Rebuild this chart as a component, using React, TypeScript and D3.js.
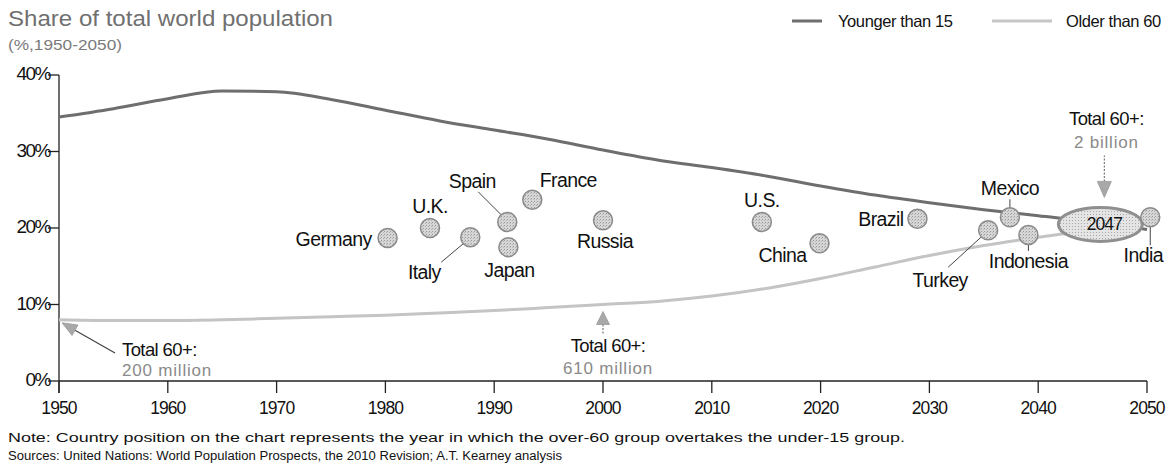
import React from "react";
import * as d3 from "d3";

// ---------- DATA ----------
const years = [1950, 1955, 1960, 1965, 1970, 1975, 1980, 1985, 1990, 1995, 2000, 2005, 2010, 2015, 2020, 2025, 2030, 2035, 2040, 2045, 2050];
const youngerShare = [34.5, 35.6, 36.9, 37.9, 37.8, 36.8, 35.4, 34.0, 32.8, 31.6, 30.2, 28.9, 27.9, 26.8, 25.5, 24.3, 23.3, 22.4, 21.6, 20.8, 19.8];
const olderShare = [8.0, 7.9, 7.9, 8.0, 8.2, 8.4, 8.6, 8.9, 9.2, 9.6, 10.0, 10.4, 11.1, 12.1, 13.4, 14.9, 16.4, 17.7, 18.8, 19.8, 21.2];

const yTicks = [0, 10, 20, 30, 40];
const xTicks = [1950, 1960, 1970, 1980, 1990, 2000, 2010, 2020, 2030, 2040, 2050];

const countryNames = ["Germany", "U.K.", "Italy", "Spain", "Japan", "France", "Russia", "U.S.", "China", "Brazil", "Turkey", "Mexico", "Indonesia", "India"];
const countryYears = [1980.2, 1984.1, 1987.8, 1991.2, 1991.3, 1993.5, 2000, 2014.6, 2019.9, 2028.9, 2035.4, 2037.4, 2039.1, 2050.3];
const countryValues = [18.7, 20.0, 18.8, 20.8, 17.5, 23.7, 21.0, 20.8, 18.0, 21.2, 19.7, 21.4, 19.1, 21.4];

const annotationYears = [1950, 2000, 2047];
const annotationTotals = ["200 million", "610 million", "2 billion"];
const crossoverYear = 2047;
const crossoverValue = 20.6;

const legendLabels = ["Younger than 15", "Older than 60"];
const titleText = "Share of total world population";
const subtitleText = "(%,1950-2050)";
const noteText = "Note: Country position on the chart represents the year in which the over-60 group overtakes the under-15 group.";
const sourceText = "Sources: United Nations: World Population Prospects, the 2010 Revision; A.T. Kearney analysis";

// ---------- LAYOUT ----------
type LabelPos = { dx: number; dy: number; anchor: "start" | "middle" | "end"; leader?: [number, number, number, number] };
const labelLayout: Record<string, LabelPos> = {
  "Germany": { dx: -16, dy: 1, anchor: "end" },
  "U.K.": { dx: 0, dy: -22, anchor: "middle" },
  "Italy": { dx: -46, dy: 35, anchor: "middle", leader: [-29, 25, -4, 4] },
  "Spain": { dx: -35, dy: -41, anchor: "middle", leader: [-29, -30, -4, -5] },
  "Japan": { dx: 1, dy: 23, anchor: "middle" },
  "France": { dx: 36, dy: -20, anchor: "middle" },
  "Russia": { dx: 2, dy: 21, anchor: "middle" },
  "U.S.": { dx: 0, dy: -22, anchor: "middle" },
  "China": { dx: -37, dy: 12, anchor: "middle" },
  "Brazil": { dx: -14, dy: 0, anchor: "end" },
  "Turkey": { dx: -48, dy: 50, anchor: "middle", leader: [-40, 37, -4, 4] },
  "Mexico": { dx: 0, dy: -29, anchor: "middle", leader: [0, -18, 0, -9] },
  "Indonesia": { dx: 0, dy: 26, anchor: "middle", leader: [0, 9, 0, 16] },
  "India": { dx: -7, dy: 38, anchor: "middle", leader: [0, 9, 0, 28] },
};

const W = 1170;
const H = 470;
const FONT = "'Liberation Sans', Arial, sans-serif";

function arrowHead(tx: number, ty: number, fx: number, fy: number, len: number, halfW: number) {
  const ang = Math.atan2(fy - ty, fx - tx);
  const bx = tx + Math.cos(ang) * len;
  const by = ty + Math.sin(ang) * len;
  const px = -Math.sin(ang) * halfW;
  const py = Math.cos(ang) * halfW;
  return { points: `${tx},${ty} ${bx + px},${by + py} ${bx - px},${by - py}`, bx, by };
}

export default function App() {
  const x = d3.scaleLinear().domain([1950, 2050]).range([59, 1147]);
  const y = d3.scaleLinear().domain([0, 40]).range([381, 75]);

  const lineGen = d3
    .line<number>()
    .x((_, i) => x(years[i]))
    .y((d) => y(d))
    .curve(d3.curveMonotoneX);

  const youngerPath = lineGen(youngerShare) || "";
  const olderPath = lineGen(olderShare) || "";

  const olderAt = (yr: number) => olderShare[years.indexOf(yr)];

  const ex = x(crossoverYear) - 14;
  const ey = y(crossoverValue) + 1;

  const a0Tip = [x(annotationYears[0]) + 3, y(olderAt(annotationYears[0])) + 3];
  const a0Tail = [115, 353];
  const h0 = arrowHead(a0Tip[0], a0Tip[1], a0Tail[0], a0Tail[1], 15, 6);
  const a1Tip = [x(annotationYears[1]), y(olderAt(annotationYears[1])) + 7];
  const h1 = arrowHead(a1Tip[0], a1Tip[1], a1Tip[0], a1Tip[1] + 20, 13, 6.5);
  const a2Tip = [ex + 4, ey - 27];
  const h2 = arrowHead(a2Tip[0], a2Tip[1], a2Tip[0], a2Tip[1] - 40, 16, 7);

  return (
    <svg width={W} height={H} style={{ position: "absolute", left: 0, top: 0, background: "#fff" }} fontFamily={FONT}>
      <defs>
        <pattern id="stip" width="3" height="3" patternUnits="userSpaceOnUse">
          <rect width="3" height="3" fill="#d6d6d6" />
          <rect x="0" y="0" width="1" height="1" fill="#9a9a9a" />
          <rect x="2" y="1" width="1" height="1" fill="#b4b4b4" />
        </pattern>
        <pattern id="stip2" width="3" height="3" patternUnits="userSpaceOnUse">
          <rect width="3" height="3" fill="#e4e4e4" />
          <rect x="1" y="1" width="1" height="1" fill="#a8a8a8" />
        </pattern>
      </defs>
      <rect width={W} height={H} fill="#fff" />
      {/* Title */}
      <text x={8} y={26} fontSize={22} fill="#707070" textLength={325} lengthAdjust="spacingAndGlyphs">{titleText}</text>
      <text x={8} y={50} fontSize={15} fill="#7a7a7a" textLength={114} lengthAdjust="spacingAndGlyphs">{subtitleText}</text>

      {/* Legend */}
      <line x1={792} x2={822} y1={21} y2={21} stroke="#6f6f6f" strokeWidth={3} />
      <text x={838} y={27} fontSize={16.5} fill="#111" letterSpacing={-0.4}>{legendLabels[0]}</text>
      <line x1={992} x2={1052} y1={21} y2={21} stroke="#c6c6c6" strokeWidth={3} />
      <text x={1066} y={27} fontSize={16.5} fill="#111" letterSpacing={-0.4}>{legendLabels[1]}</text>

      {/* Axes */}
      <line x1={x(1950)} x2={x(1950)} y1={y(40)} y2={y(0) + 12} stroke="#222" strokeWidth={1.3} />
      <line x1={x(1950)} x2={x(2050)} y1={y(0)} y2={y(0)} stroke="#222" strokeWidth={1.3} />
      {yTicks.map((t) => (
        <g key={"y" + t}>
          <line x1={x(1950) - 11} x2={x(1950)} y1={y(t)} y2={y(t)} stroke="#222" strokeWidth={1.3} />
          <text x={50} y={y(t) + 5} fontSize={19} textAnchor="end" fill="#111" letterSpacing={-1.5}>{t + "%"}</text>
        </g>
      ))}
      {xTicks.map((t) => (
        <g key={"x" + t}>
          <line x1={x(t)} x2={x(t)} y1={y(0)} y2={y(0) + 12} stroke="#222" strokeWidth={1.3} />
          <text x={x(t)} y={414} fontSize={17.5} textAnchor="middle" fill="#111" letterSpacing={-0.9}>{t}</text>
        </g>
      ))}

      {/* Lines */}
      <path d={olderPath} fill="none" stroke="#c4c4c4" strokeWidth={3} />
      <path d={youngerPath} fill="none" stroke="#6e6e6e" strokeWidth={3} />

      {/* Crossover ellipse */}
      <ellipse cx={ex} cy={ey} rx={42} ry={17} fill="url(#stip2)" stroke="#8f8f8f" strokeWidth={3} />
      <text x={ex + 4} y={ey + 6} fontSize={17.5} textAnchor="middle" fill="#111" letterSpacing={-0.9}>{crossoverYear}</text>

      {/* Countries */}
      {countryNames.map((name, i) => {
        const cx = x(countryYears[i]);
        const cy = y(countryValues[i]);
        const lp = labelLayout[name];
        return (
          <g key={name}>
            {lp.leader && (
              <line x1={cx + lp.leader[0]} y1={cy + lp.leader[1]} x2={cx + lp.leader[2]} y2={cy + lp.leader[3]} stroke="#444" strokeWidth={1} />
            )}
            <circle cx={cx} cy={cy} r={9.5} fill="url(#stip)" stroke="#8a8a8a" strokeWidth={1.5} />
            <text x={cx + lp.dx} y={cy + lp.dy} dominantBaseline="central" textAnchor={lp.anchor} fontSize={19.5} fill="#111" letterSpacing={-0.6}>{name}</text>
          </g>
        );
      })}

      {/* Annotation 1950 */}
      <line x1={h0.bx} y1={h0.by} x2={a0Tail[0]} y2={a0Tail[1]} stroke="#444" strokeWidth={1.2} />
      <polygon points={h0.points} fill="#a8a8a8" stroke="#999" strokeWidth={0.8} />
      <text x={122} y={356} fontSize={18.5} fill="#111" letterSpacing={-0.6}>Total 60+:</text>
      <text x={122} y={376} fontSize={17} fill="#8a8a8a" letterSpacing={0.8}>{annotationTotals[0]}</text>

      {/* Annotation 2000 */}
      <line x1={h1.bx} y1={h1.by} x2={h1.bx} y2={h1.by + 9} stroke="#777" strokeWidth={1.2} strokeDasharray="2,1.5" />
      <polygon points={h1.points} fill="#a8a8a8" stroke="#999" strokeWidth={0.8} />
      <text x={x(annotationYears[1]) + 5} y={352} fontSize={18.5} textAnchor="middle" fill="#111" letterSpacing={-0.6}>Total 60+:</text>
      <text x={x(annotationYears[1]) + 5} y={374} fontSize={17} textAnchor="middle" fill="#8a8a8a" letterSpacing={0.8}>{annotationTotals[1]}</text>

      {/* Annotation 2047 */}
      <line x1={h2.bx} y1={h2.by} x2={h2.bx} y2={h2.by - 26} stroke="#777" strokeWidth={1.2} strokeDasharray="2,1.5" />
      <polygon points={h2.points} fill="#a8a8a8" stroke="#999" strokeWidth={0.8} />
      <text x={ex + 6} y={125} fontSize={18.5} textAnchor="middle" fill="#111" letterSpacing={-0.6}>Total 60+:</text>
      <text x={ex + 6} y={148} fontSize={17} textAnchor="middle" fill="#8a8a8a" letterSpacing={0.8}>{annotationTotals[2]}</text>

      {/* Footnotes */}
      <text x={8} y={442} fontSize={12.5} fill="#111" textLength={897} lengthAdjust="spacingAndGlyphs">{noteText}</text>
      <text x={8} y={460} fontSize={12.5} fill="#111" textLength={554} lengthAdjust="spacingAndGlyphs">{sourceText}</text>
    </svg>
  );
}
